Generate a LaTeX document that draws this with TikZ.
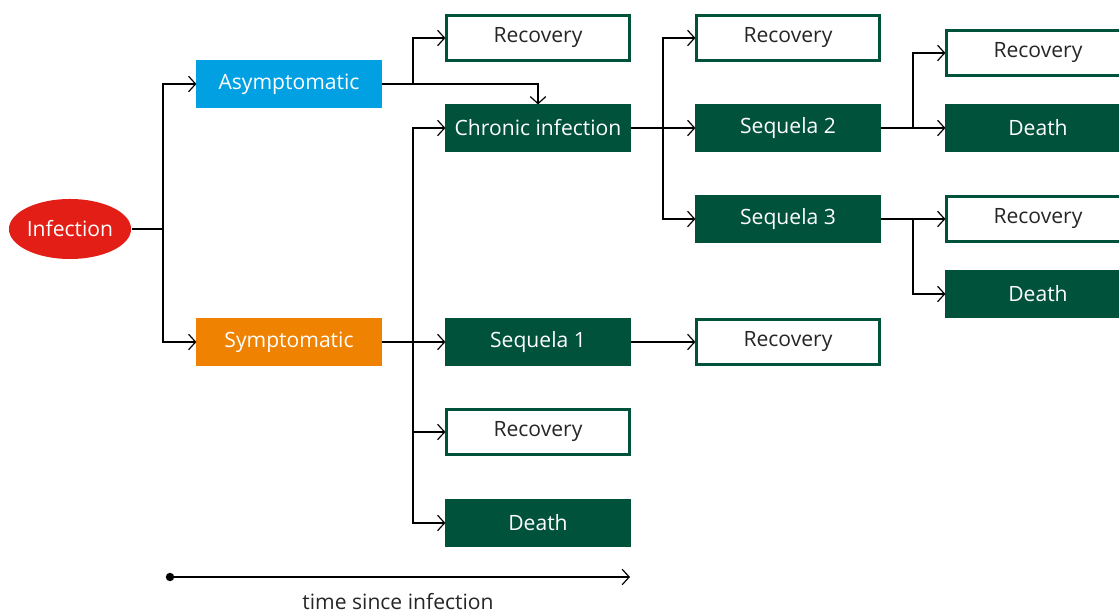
\documentclass[tikz,border=0pt]{standalone}
\usepackage{fontspec}
\setmainfont{Open Sans}
\usepackage{tikz}
\usetikzlibrary{arrows.meta}
\usetikzlibrary{shapes}
\definecolor{infred}{RGB}{226,30,22}
\definecolor{asymblue}{RGB}{0,160,226}
\definecolor{symorange}{RGB}{239,130,0}
\definecolor{rivmgreen}{RGB}{0,82,58}
\tikzstyle{stagebox}=[draw=rivmgreen,fill=rivmgreen,text=white,minimum width=4.575cm,minimum height=1.125cm,inner sep=1pt,line width=1.5pt]
\tikzstyle{endbox}=[stagebox,fill=white,text=black!85]

\begin{document}
\begin{tikzpicture}[x=0.025cm,y=-0.025cm,line width=0.85pt,>={Straight Barb[length=5pt,width=11pt]},font=\fontsize{15}{18}\selectfont]
\useasboundingbox (0,0) rectangle (1119,616);
% first steps
\node [ellipse,fill=infred,text=white,minimum width=3cm,minimum height=1.5cm,inner sep=0pt] (inf) at (70,229) {Infection};
\node [stagebox,fill=asymblue,draw=asymblue] (asym) at (289,84) {Asymptomatic};
\node [stagebox,fill=symorange,draw=symorange] (sym) at (289,342) {Symptomatic};
% second column
\node [endbox] (rec1) at (538,38) {Recovery};
\node [stagebox] (chr) at (538,128) {Chronic infection};
\node [stagebox] (seq1) at (538,342) {Sequela 1};
\node [endbox] (rec2) at (538,432) {Recovery};
\node [stagebox] (dth1) at (538,523) {Death};
% third column
\node [endbox] (rec3) at (788,38) {Recovery};
\node [stagebox] (seq2) at (788,128) {Sequela 2};
\node [stagebox] (seq3) at (788,219) {Sequela 3};
\node [endbox] (rec4) at (788,342) {Recovery};
% fourth column
\node [endbox] (rec5) at (1038,53) {Recovery};
\node [stagebox] (dth2) at (1038,128) {Death};
\node [endbox] (rec6) at (1038,219) {Recovery};
\node [stagebox] (dth3) at (1038,294) {Death};

\coordinate (j0) at (163,229);
\coordinate (j1) at (413,84);
\coordinate (j2) at (413,342);
\coordinate (j3) at (663,128);
\coordinate (j4) at (913,128);
\coordinate (j5) at (913,219);

\draw (inf) -- (j0);
\draw[->] (j0) |- (asym);
\draw[->] (j0) |- (sym);

\draw (asym) -- (j1);
\draw[->] (j1) |- (rec1);
\draw[->] (j1) -| (chr.north);

\draw (sym) -- (j2);
\foreach \t in {chr,seq1,rec2,dth1}
  \draw[->] (j2) |- (\t);

\draw (chr) -- (j3);
\foreach \t in {rec3,seq2,seq3}
  \draw[->] (j3) |- (\t);
\draw[->] (seq1) -- (rec4);

\draw (seq2) -- (j4);
\foreach \t in {rec5,dth2}
  \draw[->] (j4) |- (\t);
\draw (seq3) -- (j5);
\foreach \t in {rec6,dth3}
  \draw[->] (j5) |- (\t);

% time axis
\node [circle,fill,inner sep=0pt,minimum size=6pt] (t0) at (170,577) {};
\coordinate (t1) at (630,577);
\draw[->] (t0.center) -- (t1);
\node [text=black!85] (tlabel) at (398,602) {time since infection};
\end{tikzpicture}
\end{document}
